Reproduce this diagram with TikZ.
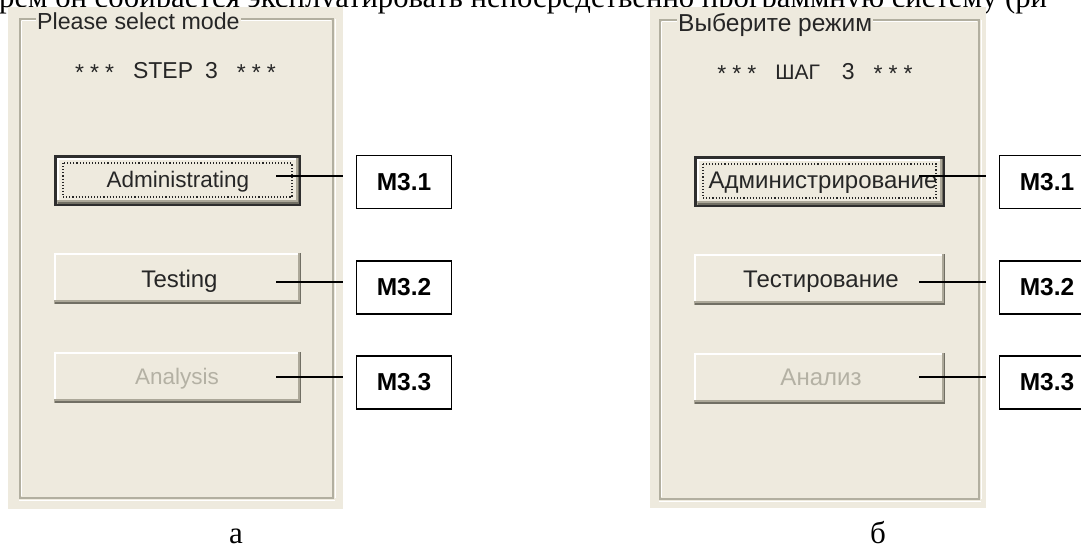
\documentclass[tikz,border=0pt]{standalone}
\usepackage{fontspec}
\setmainfont{Liberation Sans}
\newfontfamily\serifcap{Liberation Serif}
\definecolor{panel}{HTML}{EEEADE}
\definecolor{frameD}{HTML}{B2AFA0}
\definecolor{btnD}{HTML}{716F64}
\definecolor{btnM}{HTML}{ACA899}
\definecolor{dis}{HTML}{B4B1A4}
\tikzset{
  px/.style={x=1pt,y=-1pt},
  panelbox/.style={fill=panel,draw=none},
  grouptitle/.style={fill=panel,inner sep=1pt,anchor=base west,text=black!85},
  steptext/.style={anchor=base,font=\fontsize{23}{26}\selectfont,text=black!85},
  btnlabel/.style={anchor=base,inner sep=0pt,text=black!85},
  btnen/.style={btnlabel,font=\fontsize{22.5}{26}\selectfont},
  btnru/.style={btnlabel,font=\fontsize{24}{26}\selectfont},
  mbox/.style={draw=black,line width=1.1pt,fill=white,minimum width=95pt,minimum height=53pt,inner sep=0pt,anchor=center,font=\bfseries\fontsize{24.5}{26}\selectfont},
  lead/.style={draw=black,line width=1.2pt},
  capt/.style={font=\serifcap\fontsize{31}{34}\selectfont,anchor=base,inner sep=0pt},
}
\newcommand{\winbtn}[4]{% x1 y1 x2 y2
  \fill[white] (#1,#2) rectangle (#3,#4);
  \fill[panel] (#1+2,#2+2) rectangle (#3-3,#4-3);
  \fill[btnM] (#1,#4-4) rectangle (#3,#4);
  \fill[btnM] (#3-3.5,#2) rectangle (#3,#4);
  \fill[btnD] (#1+1,#4-2) rectangle (#3,#4);
  \fill[btnD] (#3-1.5,#2) rectangle (#3,#4);
}
\newcommand{\groupframe}[4]{%
  \draw[frameD,line width=1.4pt] (#1,#2) rectangle (#3,#4);
  \draw[white,line width=0.9pt] (#1+1.6,#2+1.6) -- (#3-1.6,#2+1.6);
  \draw[white,line width=0.9pt] (#1-1,#4+2) -- (#3+2,#4+2);
  \draw[white,line width=0.9pt] (#1+1.6,#2+1.6) -- (#1+1.6,#4-1.6);
  \draw[white,line width=0.9pt] (#3+2,#2) -- (#3+2,#4);
}
\newcommand{\stars}{\raisebox{-2pt}{*\kern6pt*\kern6pt*}}
\begin{document}
\begin{tikzpicture}[px]
\useasboundingbox (0,0) rectangle (1081,544);
\begin{scope}
\clip (0,0) rectangle (1081,544);
\node[anchor=base west,inner sep=0pt,font=\serifcap\fontsize{30.7}{34}\selectfont] (top) at (-1,7) {рем он собирается эксплуатировать непосредственно программную систему (ри};
% panel a
\fill[panelbox] (8,7) rectangle (343,509);
\groupframe{20}{19}{333}{498}
\node[grouptitle,font=\fontsize{23.2}{26}\selectfont] (ta) at (36,29) {Please select mode};
\node[steptext] (sa) at (175.5,78) {\stars\kern19pt STEP\kern12pt 3\kern19pt\stars};
\fill[black!82] (54,155) rectangle (301,206);
\winbtn{56.5}{157.5}{299}{203.5}
\draw[black!85,line width=1.1pt,dotted] (63,163) rectangle (292,197);
\node[btnen] (ba) at (178,187) {Administrating};
\winbtn{54}{253}{301}{304}
\node[btnru] (bb) at (179.5,287) {Testing};
\winbtn{54}{352}{301}{403}
\node[btnen,text=dis] (bc) at (177,384) {Analysis};
% panel b
\fill[panelbox] (650,7) rectangle (986,508);
\groupframe{660}{20}{979}{499}
\node[grouptitle,font=\fontsize{24.5}{26}\selectfont] (tb) at (677,31) {Выберите режим};
\node[steptext] (sb) at (815,79) {\stars\kern19pt{\fontsize{21}{26}\selectfont ШАГ}\kern22pt 3\kern19pt\stars};
\fill[black!82] (694,156) rectangle (945,207);
\winbtn{696.5}{158.5}{943}{204.5}
\draw[black!85,line width=1.1pt,dotted] (703,164) rectangle (936,198);
\node[btnru] (bd) at (823,188) {Администрирование};
\winbtn{694}{254}{945}{305}
\node[btnru] (be) at (821,287) {Тестирование};
\winbtn{694}{353}{945}{404}
\node[btnru,text=dis] (bf) at (821,385) {Анализ};
% labels
\node[mbox] (ma) at (404,182) {M3.1};
\node[mbox] (mb) at (404,287.5) {M3.2};
\node[mbox] (mc) at (404,382.5) {M3.3};
\node[mbox] (md) at (1047,182) {M3.1};
\node[mbox] (me) at (1047,287.5) {M3.2};
\node[mbox] (mf) at (1047,382.5) {M3.3};
\coordinate (ca) at (343,176);
\coordinate (cb) at (343,282);
\coordinate (cc) at (343,377);
\coordinate (cd) at (986,176);
\coordinate (ce) at (986,282);
\coordinate (cf) at (986,377);
\draw[lead] (276,176) -- (ca);
\draw[lead] (276,282) -- (cb);
\draw[lead] (276,377) -- (cc);
\draw[lead] (919,176) -- (cd);
\draw[lead] (919,282) -- (ce);
\draw[lead] (919,377) -- (cf);
\node[capt] (ca1) at (236,543) {а};
\node[capt] (cb1) at (878,543) {б};
\end{scope}
\end{tikzpicture}
\end{document}
